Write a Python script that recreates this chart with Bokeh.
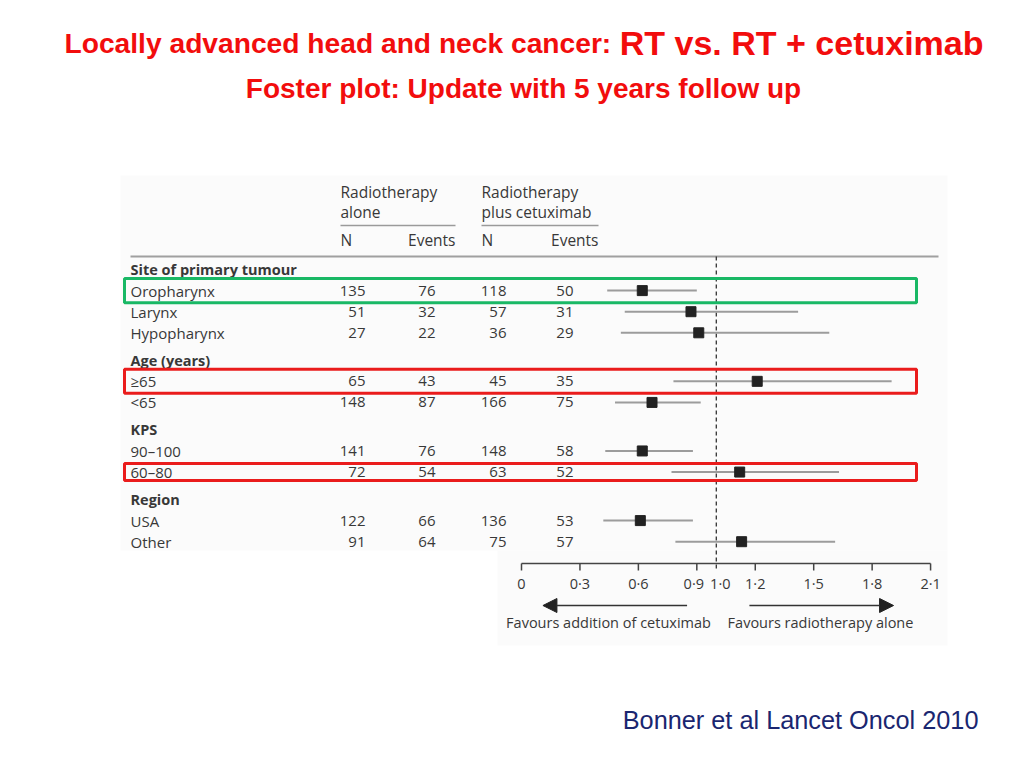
from bokeh.plotting import figure
from bokeh.models import ColumnDataSource, Range1d, Arrow, NormalHead
from bokeh.core.properties import value
from bokeh.embed import file_html
from bokeh.resources import INLINE

# ---------------- data ----------------
groups = ["Site of primary tumour", "Age (years)", "KPS", "Region"]
subgroups = ["Oropharynx", "Larynx", "Hypopharynx", "≥65", "<65",
             "90–100", "60–80", "USA", "Other"]
group_of = [0, 0, 0, 1, 1, 2, 2, 3, 3]
rt_n = [135, 51, 27, 65, 148, 141, 72, 122, 91]
rt_events = [76, 32, 22, 43, 87, 76, 54, 66, 64]
cx_n = [118, 57, 36, 45, 166, 148, 63, 136, 75]
cx_events = [50, 31, 29, 35, 75, 58, 52, 53, 57]
hr = [0.62, 0.87, 0.91, 1.21, 0.67, 0.62, 1.12, 0.61, 1.13]
ci_lo = [0.44, 0.53, 0.51, 0.78, 0.48, 0.43, 0.77, 0.42, 0.79]
ci_hi = [0.90, 1.42, 1.58, 1.90, 0.92, 0.88, 1.63, 0.88, 1.61]
highlight = ["green", None, None, "red", None, None, "red", None, None]
tick_values = [0, 0.3, 0.6, 0.9, 1.2, 1.5, 1.8, 2.1]
tick_labels = ["0", "0·3", "0·6", "0·9", "1·2", "1·5", "1·8", "2·1"]
ref_value = 1.0
ref_label = "1·0"

# ---------------- layout constants ----------------
W, H = 1008, 752
AX_ZERO_PX, AX_UNIT_PX = 521.0, 194.8     # hazard-ratio scale calibration
ROW0_PX, ROW_STEP = 269.0, 21.1           # row scale calibration
GROUP_GAP = 0.3

TXT = "#383838"
FONT = "Open Sans"
RED = "#f20d0d"

p = figure(width=W, height=H, min_border=0, x_axis_type=None, y_axis_type=None,
           toolbar_location=None, output_backend="svg", title=None,
           x_range=Range1d(0, W), y_range=Range1d(H, 0))
p.outline_line_color = None
p.background_fill_color = "white"
p.border_fill_color = "white"
p.extra_x_ranges = {"hr": Range1d((0 - AX_ZERO_PX) / AX_UNIT_PX, (W - AX_ZERO_PX) / AX_UNIT_PX)}
p.extra_y_ranges = {"row": Range1d((H - ROW0_PX) / ROW_STEP, (0 - ROW0_PX) / ROW_STEP)}

# row positions
header_pos, row_pos = [], []
line = 0
for g in range(len(groups)):
    header_pos.append(line + g * GROUP_GAP)
    line += 1
    for i, gi in enumerate(group_of):
        if gi == g:
            row_pos.append(line + g * GROUP_GAP)
            line += 1

# faint image background
p.quad(left=[120, 497], right=[947, 947], top=[175, 550], bottom=[550, 645],
       fill_color="#fbfbfb", line_color=None)

# titles
p.text(x=[64], y=[42], text=["Locally advanced head and neck cancer:"],
       text_font=value("Liberation Sans"), text_font_style="bold",
       text_font_size="28.2px", text_color=RED, text_baseline="middle", text_align="left")
p.text(x=[983], y=[42], text=["RT vs. RT + cetuximab"],
       text_font=value("Liberation Sans"), text_font_style="bold",
       text_font_size="34px", text_color=RED, text_baseline="middle", text_align="right")
p.text(x=[523], y=[88], text=["Foster plot: Update with 5 years follow up"],
       text_font=value("Liberation Sans"), text_font_style="bold",
       text_font_size="28px", text_color=RED, text_baseline="middle", text_align="center")
p.text(x=[978], y=[719], text=["Bonner et al Lancet Oncol 2010"],
       text_font=value("Liberation Sans"), text_font_size="25.3px", text_color="#1a2670",
       text_baseline="middle", text_align="right")

# column headers
hdr_kw = dict(text_font=value(FONT), text_font_size="15.5px", text_color=TXT, text_baseline="middle")
p.text(x=[340, 340, 481, 481], y=[191, 211, 191, 211],
       text=["Radiotherapy", "alone", "Radiotherapy", "plus cetuximab"], text_align="left", **hdr_kw)
p.text(x=[340, 481], y=[239, 239], text=["N", "N"], text_align="left", **hdr_kw)
p.text(x=[455, 598], y=[239, 239], text=["Events", "Events"], text_align="right", **hdr_kw)
p.segment(x0=[340, 481], x1=[455, 598], y0=[225, 225], y1=[225, 225],
          line_color="#9a9a9a", line_width=1.5)
p.segment(x0=[130], x1=[938], y0=[256], y1=[256], line_color="#a0a0a0", line_width=2)

# group headers
p.text(x=[130] * len(groups), y=header_pos, y_range_name="row", text=groups,
       text_font=value(FONT), text_font_style="bold", text_font_size="14.5px",
       text_color=TXT, text_baseline="middle", text_align="left")

# rows
src = ColumnDataSource(dict(
    y=row_pos, label=subgroups,
    rt_n=[str(v) for v in rt_n], rt_e=[str(v) for v in rt_events],
    cx_n=[str(v) for v in cx_n], cx_e=[str(v) for v in cx_events],
    hr=hr, lo=ci_lo, hi=ci_hi))
row_kw = dict(source=src, y="y", y_range_name="row", text_font=value(FONT),
              text_font_size="15px", text_color=TXT, text_baseline="middle")
p.text(x=130, text="label", text_align="left", **row_kw)
p.text(x=365, text="rt_n", text_align="right", **row_kw)
p.text(x=435, text="rt_e", text_align="right", **row_kw)
p.text(x=506, text="cx_n", text_align="right", **row_kw)
p.text(x=573, text="cx_e", text_align="right", **row_kw)

# reference line
p.segment(x0=[ref_value], x1=[ref_value], y0=[256], y1=[570], x_range_name="hr",
          line_color="#333333", line_width=1.3, line_dash="4 3")

# CI lines and squares
p.segment(x0="lo", x1="hi", y0="y", y1="y", source=src, x_range_name="hr",
          y_range_name="row", line_color="#9c9c9c", line_width=2)
p.scatter(x="hr", y="y", source=src, x_range_name="hr", y_range_name="row",
          marker="square", size=10, fill_color="#222222", line_color="#222222")

# highlight boxes
hl_idx = [i for i, c in enumerate(highlight) if c]
hl_half = {0: 0.57, 3: 0.57, 6: 0.40}
p.quad(left=[124] * len(hl_idx), right=[916] * len(hl_idx),
       top=[row_pos[i] - hl_half[i] for i in hl_idx],
       bottom=[row_pos[i] + hl_half[i] for i in hl_idx],
       y_range_name="row", fill_color=None,
       line_color=["#19b865" if highlight[i] == "green" else "#ea1c1c" for i in hl_idx],
       line_width=3)

# x axis (manual, through hr scale)
AX_Y = 563
p.segment(x0=[tick_values[0]], x1=[tick_values[-1]], y0=[AX_Y], y1=[AX_Y], x_range_name="hr",
          line_color="#444444", line_width=1.5)
p.segment(x0=tick_values, x1=tick_values, y0=[AX_Y] * len(tick_values),
          y1=[AX_Y + 7] * len(tick_values), x_range_name="hr", line_color="#444444", line_width=1.5)
lab_kw = dict(x_range_name="hr", text_font=value(FONT), text_font_size="14.5px", text_color=TXT,
              text_baseline="middle", text_align="center")
lab_offsets = [-3 if t == "0·9" else 0 for t in tick_labels]
p.text(x=tick_values, y=[583] * len(tick_values), text=tick_labels, x_offset=lab_offsets, **lab_kw)
p.text(x=[ref_value], y=[583], text=[ref_label], x_offset=4, **lab_kw)

# arrows
head_kw = dict(size=14, fill_color="#222222", line_color="#222222")
p.add_layout(Arrow(end=NormalHead(**head_kw), x_start=0.85, x_end=0.11, y_start=605, y_end=605,
                   x_range_name="hr", line_color="#333333", line_width=1.5))
p.add_layout(Arrow(end=NormalHead(**head_kw), x_start=1.17, x_end=1.91, y_start=605, y_end=605,
                   x_range_name="hr", line_color="#333333", line_width=1.5))
p.text(x=[608, 820], y=[622, 622], text=["Favours addition of cetuximab", "Favours radiotherapy alone"],
       text_font=value(FONT), text_font_size="14.5px", text_color=TXT,
       text_baseline="middle", text_align="center")

open("out.html", "w").write(file_html(p, INLINE))
